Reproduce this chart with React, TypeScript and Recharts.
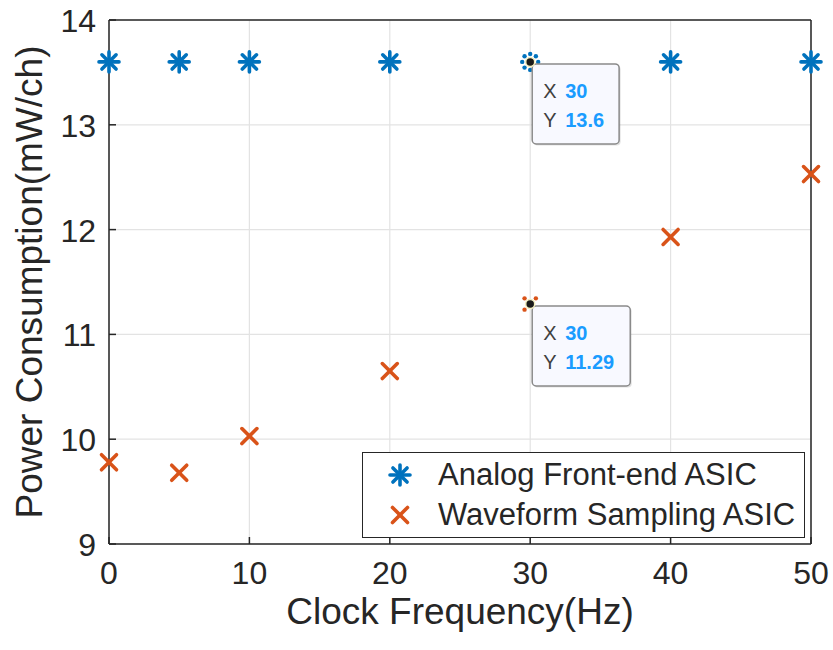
import React from 'react';
import { ScatterChart, Scatter, XAxis, YAxis, CartesianGrid, Legend } from 'recharts';

const FONT = '"Liberation Sans", Arial, Helvetica, sans-serif';
const TEXT = '#262626';
const BLUE = '#0072BD';
const ORANGE = '#D95319';

const xTicks = [0, 10, 20, 30, 40, 50];
const yTicks = [9, 10, 11, 12, 13, 14];

const analogFreq = [0, 5, 10, 20, 30, 40, 50];
const analogPower = [13.6, 13.6, 13.6, 13.6, 13.6, 13.6, 13.6];
const waveformFreq = [0, 5, 10, 20, 30, 40, 50];
const waveformPower = [9.78, 9.68, 10.03, 10.65, 11.29, 11.93, 12.53];

const tipFreq = [30, 30];
const tipPower = [13.6, 11.29];

const analogData = analogFreq.map((x, i) => ({ x, y: analogPower[i] }));
const waveformData = waveformFreq.map((x, i) => ({ x, y: waveformPower[i] }));
const tipData = tipFreq.map((x, i) => ({ x, y: tipPower[i] }));

const isTip = (p: any) => tipData.some((t) => t.x === p.x && t.y === p.y);

const Asterisk = ({ cx, cy, color, r = 10, sw = 3.6 }: any) => (
  <g>
    {[0, 45, 90, 135].map((a) => {
      const rad = (a * Math.PI) / 180;
      const dx = Math.cos(rad) * r;
      const dy = Math.sin(rad) * r;
      return (
        <line key={a} x1={cx - dx} y1={cy - dy} x2={cx + dx} y2={cy + dy} stroke={color} strokeWidth={sw} strokeLinecap="round" />
      );
    })}
  </g>
);

const Cross = ({ cx, cy, color, r = 7.5, sw = 3.6 }: any) => (
  <g>
    <line x1={cx - r} y1={cy - r} x2={cx + r} y2={cy + r} stroke={color} strokeWidth={sw} strokeLinecap="round" />
    <line x1={cx - r} y1={cy + r} x2={cx + r} y2={cy - r} stroke={color} strokeWidth={sw} strokeLinecap="round" />
  </g>
);

const AnalogShape = (props: any) => {
  const { cx, cy, payload } = props;
  if (isTip(payload)) {
    return (
      <g>
        {[0, 45, 90, 135, 180, 225, 270, 315].map((a) => {
          const rad = (a * Math.PI) / 180;
          return <circle key={a} cx={cx + Math.cos(rad) * 8} cy={cy + Math.sin(rad) * 8} r={2.2} fill={BLUE} />;
        })}
      </g>
    );
  }
  return <Asterisk cx={cx} cy={cy} color={BLUE} />;
};

const WaveShape = (props: any) => {
  const { cx, cy, payload } = props;
  if (isTip(payload)) {
    return (
      <g>
        {[45, 135, 225, 315].map((a) => {
          const rad = (a * Math.PI) / 180;
          return <circle key={a} cx={cx + Math.cos(rad) * 8} cy={cy + Math.sin(rad) * 8} r={2.2} fill={ORANGE} />;
        })}
      </g>
    );
  }
  return <Cross cx={cx} cy={cy} color={ORANGE} />;
};

const textW = (s: string, size: number) =>
  s.split('').reduce((acc, c) => acc + (c === '.' ? 0.278 : 0.556), 0) * size;

const TipShape = (props: any) => {
  const { cx, cy, payload } = props;
  const xs = String(payload.x);
  const ys = String(payload.y);
  const tw = Math.max(textW(xs, 20), textW(ys, 20));
  const w = 33 + tw + 15;
  const h = 80;
  const bx = cx + 2;
  const by = cy + 2;
  return (
    <g>
      <rect x={bx + 1.5} y={by + 1.5} width={w} height={h} rx={4} fill="#000" opacity={0.12} />
      <rect x={bx} y={by} width={w} height={h} rx={4} fill="#f8f9ff" stroke="#8a8a8a" strokeWidth={1.5} />
      <circle cx={cx} cy={cy} r={4.5} fill="#1a1a1a" stroke="#f3eec0" strokeWidth={1.5} />
      <text x={cx + 13} y={cy + 36} fontFamily={FONT} fontSize={20} fill="#404040">X</text>
      <text x={cx + 35} y={cy + 36} fontFamily={FONT} fontSize={20} fontWeight="bold" fill="#1a9cff">{xs}</text>
      <text x={cx + 13} y={cy + 65} fontFamily={FONT} fontSize={20} fill="#404040">Y</text>
      <text x={cx + 35} y={cy + 65} fontFamily={FONT} fontSize={20} fontWeight="bold" fill="#1a9cff">{ys}</text>
    </g>
  );
};

const BottomTick = ({ x, y, payload }: any) => (
  <g>
    <line x1={x} y1={y} x2={x} y2={y - 7} stroke={TEXT} strokeWidth={1.5} />
    <text x={x} y={y + 40} textAnchor="middle" fontFamily={FONT} fontSize={32} fill={TEXT}>{payload.value}</text>
  </g>
);
const TopTick = ({ x, y }: any) => <line x1={x} y1={y} x2={x} y2={y + 7} stroke={TEXT} strokeWidth={1.5} />;
const LeftTick = ({ x, y, payload }: any) => (
  <g>
    <line x1={x} y1={y} x2={x + 7} y2={y} stroke={TEXT} strokeWidth={1.5} />
    <text x={x - 13} y={y + 12} textAnchor="end" fontFamily={FONT} fontSize={32} fill={TEXT}>{payload.value}</text>
  </g>
);
const RightTick = ({ x, y }: any) => <line x1={x} y1={y} x2={x - 7} y2={y} stroke={TEXT} strokeWidth={1.5} />;

const LegendBox = () => (
  <div
    style={{
      width: 443,
      height: 86,
      boxSizing: 'border-box',
      border: `1.5px solid ${TEXT}`,
      background: '#fff',
      position: 'relative',
      fontFamily: FONT,
    }}
  >
    <svg width={443} height={86} style={{ position: 'absolute', left: -1.5, top: -1.5 }}>
      <Asterisk cx={38} cy={23} color={BLUE} />
      <Cross cx={38} cy={63} color={ORANGE} />
      <text x={76} y={33} fontFamily={FONT} fontSize={31} fill={TEXT}>Analog Front-end ASIC</text>
      <text x={76} y={73} fontFamily={FONT} fontSize={31} fill={TEXT}>Waveform Sampling ASIC</text>
    </svg>
  </div>
);

export default function App() {
  return (
    <div style={{ position: 'absolute', left: 0, top: 0, width: 833, height: 650, background: '#fff' }}>
      <ScatterChart width={833} height={650} margin={{ top: 19, right: 21, left: 0, bottom: 0 }}>
        <CartesianGrid stroke="#e3e3e3" strokeWidth={1.2} />
        <XAxis
          dataKey="x"
          type="number"
          domain={[0, 50]}
          ticks={xTicks}
          height={106}
          tickSize={0}
          tickMargin={0}
          tickLine={false}
          axisLine={{ stroke: TEXT, strokeWidth: 1.5 }}
          tick={<BottomTick />}
          interval={0}
          label={({ viewBox }: any) => (
            <text
              x={viewBox.x + viewBox.width / 2}
              y={viewBox.y + 80}
              textAnchor="middle"
              fontFamily={FONT}
              fontSize={37}
              fill={TEXT}
            >
              Clock Frequency(Hz)
            </text>
          )}
        />
        <XAxis
          xAxisId="top"
          orientation="top"
          dataKey="x"
          type="number"
          domain={[0, 50]}
          ticks={xTicks}
          height={1}
          tickSize={0}
          tickMargin={0}
          tickLine={false}
          axisLine={{ stroke: TEXT, strokeWidth: 1.5 }}
          tick={<TopTick />}
          interval={0}
        />
        <YAxis
          dataKey="y"
          type="number"
          domain={[9, 14]}
          ticks={yTicks}
          width={109}
          tickSize={0}
          tickMargin={0}
          tickLine={false}
          axisLine={{ stroke: TEXT, strokeWidth: 1.5 }}
          tick={<LeftTick />}
          interval={0}
          label={({ viewBox }: any) => {
            const cx = viewBox.x + 29;
            const cy = viewBox.y + viewBox.height / 2;
            return (
              <text
                x={cx}
                y={cy}
                transform={`rotate(-90, ${cx}, ${cy})`}
                textAnchor="middle"
                dominantBaseline="central"
                fontFamily={FONT}
                fontSize={37}
                fill={TEXT}
              >
                Power Consumption(mW/ch)
              </text>
            );
          }}
        />
        <YAxis
          yAxisId="right"
          orientation="right"
          dataKey="y"
          type="number"
          domain={[9, 14]}
          ticks={yTicks}
          width={1}
          tickSize={0}
          tickMargin={0}
          tickLine={false}
          axisLine={{ stroke: TEXT, strokeWidth: 1.5 }}
          tick={<RightTick />}
          interval={0}
        />
        <Legend
          layout="vertical"
          align="center"
          verticalAlign="middle"
          content={() => <LegendBox />}
          wrapperStyle={{ position: 'absolute', left: 362, top: 452, width: 443, height: 86 }}
        />
        <Scatter name="Analog Front-end ASIC" data={analogData} shape={<AnalogShape />} isAnimationActive={false} />
        <Scatter name="Waveform Sampling ASIC" data={waveformData} shape={<WaveShape />} isAnimationActive={false} />
        <Scatter name="tips" data={tipData} shape={<TipShape />} legendType="none" isAnimationActive={false} />
      </ScatterChart>
    </div>
  );
}
